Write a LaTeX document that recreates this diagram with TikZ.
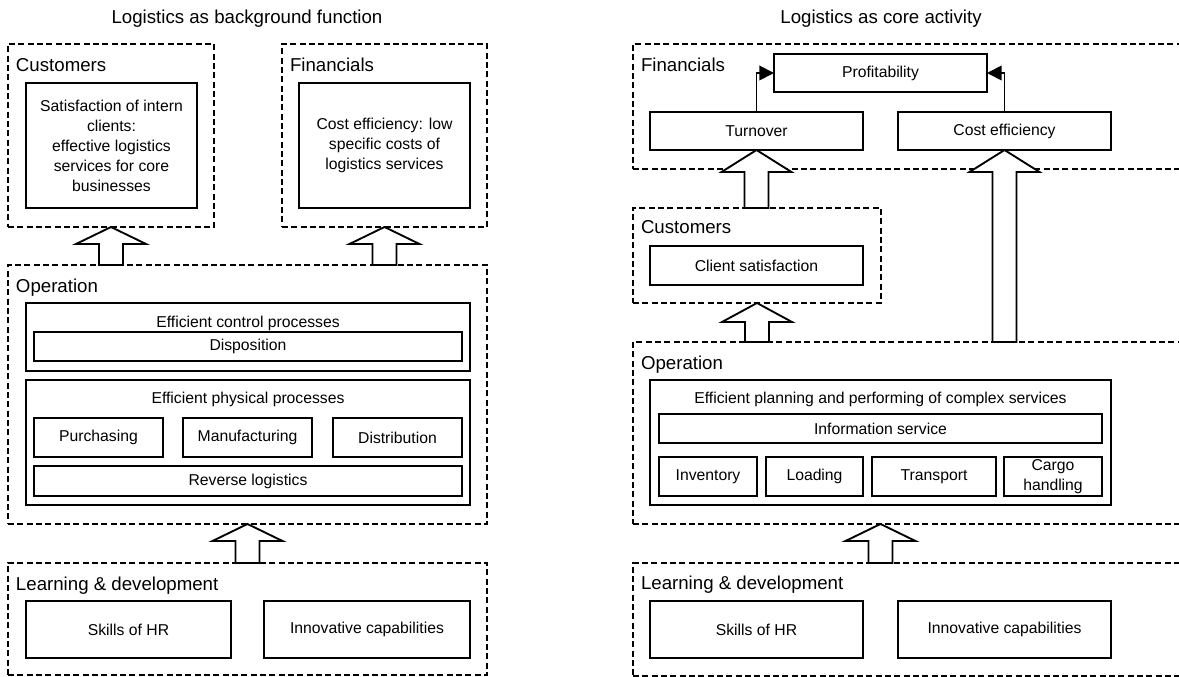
\documentclass[tikz,border=0pt]{standalone}
\usepackage{fontspec}
\setmainfont{Liberation Sans}
\usetikzlibrary{calc,arrows.meta}
\newlength{\pxu}
\setlength{\pxu}{0.75pt}
\tikzset{every node/.style={inner sep=0pt, outer sep=0pt},
  group/.style={draw, line width=1.2pt, dash pattern=on 4.5pt off 2.5pt},
  item/.style={draw, solid, line width=1.4pt, align=center, font=\fontsize{11.8}{15}\selectfont},
  head/.style={anchor=base west, font=\fontsize{14}{17}\selectfont},
  sub/.style={anchor=base, font=\fontsize{11.8}{15}\selectfont},
  title/.style={anchor=base, font=\fontsize{14}{17}\selectfont},
  thinarrow/.style={line width=1.4pt, -{Triangle[length=11pt, width=11pt]}},
  blockarrow/.style={draw, fill=white, line width=1.4pt, line join=miter}}
\newcommand{\blockarrow}[3]{%
  \path[blockarrow] (#2) -- ($(#2)+(35,#3)$) -- ($(#2)+(12,#3)$) -- ($(#1)+(12,0)$)
    -- ($(#1)+(-12,0)$) -- ($(#2)+(-12,#3)$) -- ($(#2)+(-35,#3)$) -- cycle;}

\begin{document}
\begin{tikzpicture}[x=0.75pt, y=-0.75pt]
  \useasboundingbox (0,0) rectangle (1179,677);
  \clip (0,0) rectangle (1179,677);
  \begin{scope}
    \node[title] (lt) at (247,24) {Logistics as background function};
    % customers and financials
    \node[group, minimum width=206\pxu, minimum height=183\pxu] (cust) at (111,135.5) {};
    \node[head] at ($(cust.north west)+(8,28)$) {Customers};
    \node[item, minimum width=171\pxu, minimum height=125\pxu] (custin) at (111.5,145.5)
      {Satisfaction of intern\\clients:\\effective logistics\\services for core\\businesses};
    \node[group, minimum width=205\pxu, minimum height=183\pxu] (fin) at (384.5,135.5) {};
    \node[head] at ($(fin.north west)+(8,28)$) {Financials};
    \node[item, minimum width=171\pxu, minimum height=125\pxu] (finin) at (384.5,145.5)
      {Cost efficiency: low\\specific costs of\\logistics services};
    % operation
    \node[group, minimum width=479\pxu, minimum height=259\pxu] (oper) at (247.5,394.5) {};
    \node[head] at ($(oper.north west)+(8,28)$) {Operation};
    \node[item, minimum width=444\pxu, minimum height=68\pxu] (ctrl) at (248,337) {};
    \node[sub] at ($(ctrl.north)+(0,25)$) {Efficient control processes};
    \node[item, minimum width=428\pxu, minimum height=29\pxu] (disp) at (248,346.5) {Disposition};
    \node[item, minimum width=444\pxu, minimum height=125\pxu] (phys) at (248,442.5) {};
    \node[sub] at ($(phys.north)+(0,24)$) {Efficient physical processes};
    \node[item, minimum width=129\pxu, minimum height=39\pxu] (purch) at (98.5,437.5) {Purchasing};
    \node[item, minimum width=129\pxu, minimum height=39\pxu] (manu) at (247.5,437.5) {Manufacturing};
    \node[item, minimum width=129\pxu, minimum height=39\pxu] (dist) at (397.5,437.5) {Distribution};
    \node[item, minimum width=428\pxu, minimum height=30\pxu] (rev) at (248,481) {Reverse logistics};
    % learning
    \node[group, minimum width=479\pxu, minimum height=112\pxu] (learn) at (247.5,619) {};
    \node[head] at ($(learn.north west)+(8,27)$) {Learning \& development};
    \node[item, minimum width=205\pxu, minimum height=57\pxu] (skills) at (128.5,629.5) {Skills of HR};
    \node[item, minimum width=206\pxu, minimum height=57\pxu] (innov) at (367,629.5) {Innovative capabilities};
    \coordinate (b1) at (cust.south |- oper.north);
    \coordinate (b2) at (fin.south |- oper.north);
    \blockarrow{b1}{cust.south}{17}
    \blockarrow{b2}{fin.south}{17}
    \blockarrow{learn.north}{oper.south}{17}
  \end{scope}
  \begin{scope}
    \node[title] (rt) at (881,24) {Logistics as core activity};
    % financials
    \node[group, minimum width=567\pxu, minimum height=125\pxu] (rfin) at (916.5,106.5) {};
    \node[head] at ($(rfin.north west)+(8,28)$) {Financials};
    \node[item, minimum width=213\pxu, minimum height=38\pxu] (prof) at (880.5,73) {Profitability};
    \node[item, minimum width=213\pxu, minimum height=38\pxu] (turn) at (756.5,131) {Turnover};
    \node[item, minimum width=213\pxu, minimum height=38\pxu] (cost) at (1004.5,131) {Cost efficiency};
    \draw[thinarrow] (turn.north) |- (prof.west);
    \draw[thinarrow] (cost.north) |- (prof.east);
    % customers
    \node[group, minimum width=248\pxu, minimum height=95\pxu] (rcust) at (757,255.5) {};
    \node[head] at ($(rcust.north west)+(8,26)$) {Customers};
    \node[item, minimum width=213\pxu, minimum height=39\pxu] (client) at (756.5,265.5) {Client satisfaction};
    % operation
    \node[group, minimum width=567\pxu, minimum height=182\pxu] (roper) at (916.5,433) {};
    \node[head] at ($(roper.north west)+(8,28)$) {Operation};
    \node[item, minimum width=461\pxu, minimum height=125\pxu] (plan) at (880.5,442.5) {};
    \node[sub] at ($(plan.north)+(0,24)$) {Efficient planning and performing of complex services};
    \node[item, minimum width=443\pxu, minimum height=29\pxu] (info) at (880.5,428.5) {Information service};
    \node[item, minimum width=98\pxu, minimum height=39\pxu] (inv) at (708,476.5) {Inventory};
    \node[item, minimum width=97\pxu, minimum height=39\pxu] (load) at (814.5,476.5) {Loading};
    \node[item, minimum width=124\pxu, minimum height=39\pxu] (trans) at (934,476.5) {Transport};
    \node[item, minimum width=98\pxu, minimum height=39\pxu] (cargo) at (1053,476.5) {Cargo\\handling};
    % learning
    \node[group, minimum width=567\pxu, minimum height=113\pxu] (rlearn) at (916.5,619.5) {};
    \node[head] at ($(rlearn.north west)+(8,26)$) {Learning \& development};
    \node[item, minimum width=213\pxu, minimum height=57\pxu] (rskills) at (756.5,629.5) {Skills of HR};
    \node[item, minimum width=213\pxu, minimum height=57\pxu] (rinnov) at (1004.5,629.5) {Innovative capabilities};
    \coordinate (b4) at (turn.south |- rcust.north);
    \coordinate (b5) at (rcust.south |- roper.north);
    \coordinate (b6) at (cost.south |- roper.north);
    \coordinate (t7) at (plan.south |- roper.south);
    \coordinate (b7) at (plan.south |- rlearn.north);
    \blockarrow{b4}{turn.south}{22}
    \blockarrow{b5}{rcust.south}{19}
    \blockarrow{b6}{cost.south}{22}
    \blockarrow{b7}{t7}{17}
  \end{scope}
\end{tikzpicture}
\end{document}
